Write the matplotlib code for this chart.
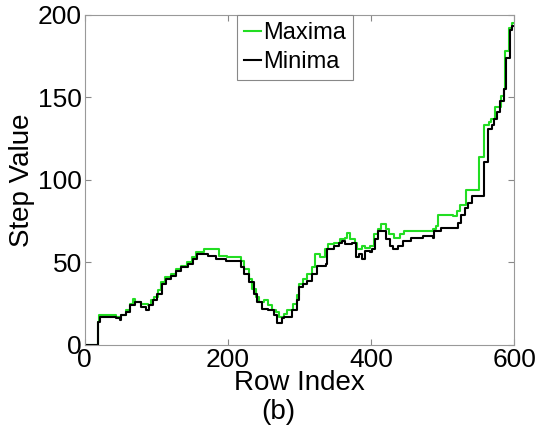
import matplotlib
matplotlib.use("Agg")
import matplotlib.pyplot as plt

plt.rcParams['font.family'] = ['Liberation Sans', 'DejaVu Sans']

# step breakpoints (row index, value)
min_x = [0, 18, 21, 44, 49, 51, 58, 63, 70, 79, 86, 90, 95, 101, 108, 113, 121, 128, 135, 145,
         152, 157, 168, 172, 184, 198, 218, 223, 230, 236, 241, 247, 256, 264, 269, 276, 279, 289,
         296, 300, 305, 310, 318, 325, 337, 339, 348, 355, 360, 363, 374, 379, 383, 387, 391, 398,
         401, 405, 409, 421, 426, 431, 437, 444, 456, 472, 486, 488, 497, 509, 521, 526, 531, 536,
         541, 558, 563, 569, 572, 576, 580, 585, 588, 594, 597, 600]
min_y = [0, 14, 17, 16, 15, 18, 20, 24, 26, 23, 21, 24, 27, 31, 37, 40, 42, 45, 47, 49,
         52, 55, 55, 54, 52, 51, 47, 43, 38, 31, 26, 22, 21, 18, 13, 16, 17, 21,
         27, 35, 37, 39, 43, 48, 49, 58, 60, 62, 63, 61, 62, 53, 55, 52, 57, 56,
         58, 64, 69, 64, 60, 58, 60, 63, 65, 66, 65, 69, 71, 71, 74, 79, 83, 86,
         90, 111, 131, 133, 137, 141, 148, 155, 174, 191, 193, 193]

max_x = [0, 18, 20, 44, 49, 51, 58, 63, 68, 71, 79, 88, 92, 97, 103, 107, 112, 120, 127, 134,
         143, 150, 156, 167, 187, 199, 218, 222, 229, 234, 239, 244, 250, 256, 262, 267, 272, 278,
         283, 291, 296, 300, 305, 310, 317, 322, 328, 336, 340, 348, 356, 363, 367, 371, 377, 380,
         387, 392, 398, 404, 410, 414, 421, 425, 432, 440, 446, 455, 470, 486, 491, 494, 514, 520,
         524, 533, 550, 557, 564, 567, 573, 582, 586, 587, 593, 597, 600]
max_y = [0, 14, 18, 17, 16, 18, 21, 25, 28, 26, 25, 24, 27, 29, 33, 38, 41, 43, 46, 48,
         50, 53, 56, 58, 54, 53, 51, 46, 40, 34, 29, 26, 27, 24, 21, 20, 17, 19,
         21, 25, 30, 37, 40, 43, 47, 55, 53, 58, 61, 62, 64, 65, 68, 64, 62, 58,
         60, 59, 60, 67, 70, 73, 70, 67, 65, 67, 69, 69, 69, 70, 72, 79, 78, 81,
         85, 94, 114, 133, 135, 137, 144, 151, 155, 178, 192, 195, 195]

fig = plt.figure(figsize=(5.46, 4.36), dpi=100)
ax = fig.add_axes([0.155, 0.209, 0.787, 0.757])

ax.plot(max_x, max_y, drawstyle='steps-post', color='#22dd22', lw=1.5, label='Maxima')
ax.plot(min_x, min_y, drawstyle='steps-post', color='black', lw=1.5, label='Minima')

ax.set_xlim(0, 600)
ax.set_ylim(0, 200)
ax.set_xticks([0, 200, 400, 600])
ax.set_yticks([0, 50, 100, 150, 200])
ax.tick_params(direction='in', length=4, width=0.8, color='#888888', labelsize=19,
               top=True, right=True, pad=2)
for s in ax.spines.values():
    s.set_color('#999999')
    s.set_linewidth(0.8)

ax.set_xlabel('Row Index', fontsize=20, labelpad=-1)
ax.set_ylabel('Step Value', fontsize=20, labelpad=2)
fig.text(0.51, 0.055, '(b)', fontsize=20, ha='center', va='center')

leg = ax.legend(loc='upper center', fontsize=17, handlelength=0.7, handletextpad=0.1,
                borderpad=0.3, labelspacing=0.3, fancybox=False, framealpha=1,
                bbox_to_anchor=(0.49, 1.0), borderaxespad=0.0)
leg.get_frame().set_edgecolor('#888888')
leg.get_frame().set_linewidth(0.8)

fig.savefig('out.png', dpi=100)
